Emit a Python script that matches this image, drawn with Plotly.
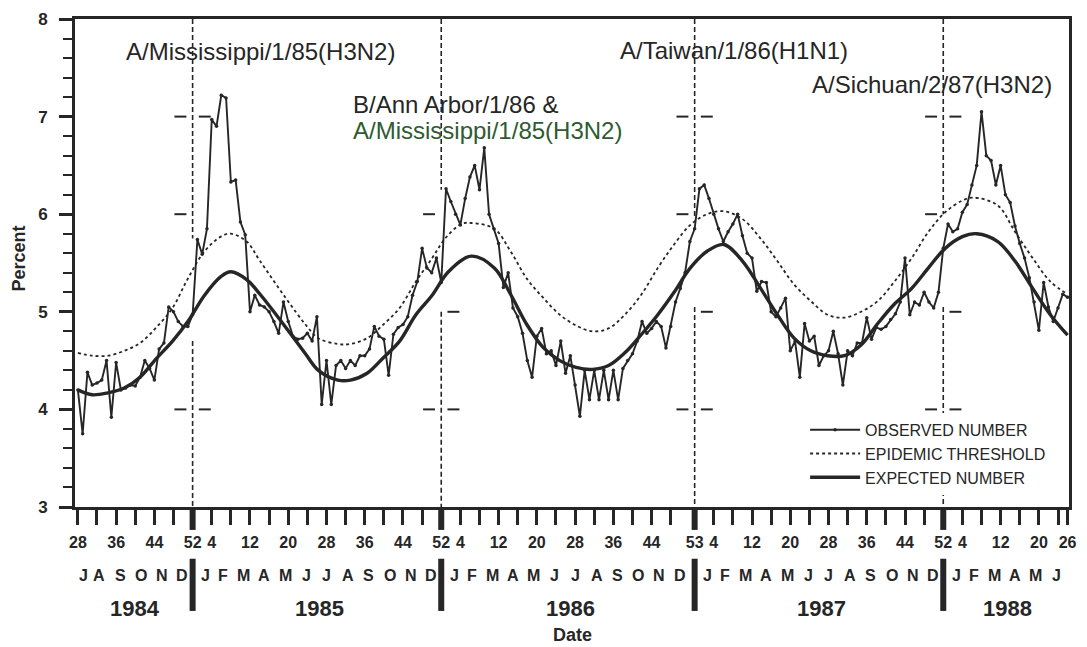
import plotly.graph_objects as go

# ---------------- data ----------------
years = [1984, 1985, 1986, 1987, 1988]
year_first_week = [28, 1, 1, 1, 1]
year_last_week = [52, 52, 53, 52, 26]

tick_weeks = [
    [28, 32, 36, 40, 44, 48, 52],
    [4, 8, 12, 16, 20, 24, 28, 32, 36, 40, 44, 48, 52],
    [4, 8, 12, 16, 20, 24, 28, 32, 36, 40, 44, 48, 53],
    [4, 8, 12, 16, 20, 24, 28, 32, 36, 40, 44, 48, 52],
    [4, 8, 12, 16, 20, 24, 26],
]
label_weeks = [
    [28, 36, 44, 52],
    [4, 12, 20, 28, 36, 44, 52],
    [4, 12, 20, 28, 36, 44, 53],
    [4, 12, 20, 28, 36, 44, 52],
    [4, 12, 20, 26],
]
month_letters = [
    list("JASOND"),
    list("JFMAMJJASOND"),
    list("JFMAMJJASOND"),
    list("JFMAMJJASOND"),
    list("JFMAMJ"),
]
month_first = [7, 1, 1, 1, 1]
month_start_day = [0, 31, 59, 90, 120, 151, 181, 212, 243, 273, 304, 334, 365]

# weekly observed percent, from week 28 of 1984 to week 26 of 1988
observed = [
    # 1984 wk 28-52
    4.2, 3.75, 4.38, 4.25, 4.27, 4.3, 4.5, 3.92, 4.48, 4.2, 4.22, 4.25, 4.24,
    4.33, 4.5, 4.42, 4.3, 4.62, 4.68, 5.05, 5.0, 4.9, 4.85, 4.85, 4.97,
    # 1985 wk 1-52
    5.74, 5.59, 5.85, 6.97, 6.9, 7.22, 7.19, 6.33, 6.35, 5.92, 5.79, 5.0, 5.17,
    5.07, 5.05, 5.0, 4.9, 4.78, 5.1, 4.9, 4.75, 4.72, 4.73, 4.78, 4.7, 4.95,
    4.05, 4.5, 4.05, 4.45, 4.5, 4.42, 4.5, 4.45, 4.55, 4.55, 4.62, 4.85, 4.75,
    4.72, 4.35, 4.77, 4.84, 4.87, 4.95, 5.17, 5.31, 5.65, 5.45, 5.4, 5.55, 5.3,
    # 1986 wk 1-53
    6.26, 6.13, 6.0, 5.89, 6.16, 6.38, 6.5, 6.25, 6.68, 6.0, 5.85, 5.7, 5.25,
    5.4, 5.04, 4.95, 4.78, 4.5, 4.33, 4.75, 4.83, 4.57, 4.6, 4.45, 4.7, 4.37,
    4.55, 4.25, 3.93, 4.4, 4.1, 4.4, 4.1, 4.4, 4.1, 4.4, 4.1, 4.42, 4.5, 4.57,
    4.7, 4.9, 4.78, 4.83, 4.9, 4.85, 4.63, 4.85, 5.1, 5.24, 5.4, 5.72, 5.85,
    # 1987 wk 1-52
    6.26, 6.3, 6.16, 6.0, 5.85, 5.72, 5.82, 5.9, 6.0, 5.78, 5.6, 5.55, 5.21,
    5.31, 5.3, 5.0, 4.95, 5.04, 5.14, 4.6, 4.7, 4.33, 4.88, 4.7, 4.75, 4.45,
    4.55, 4.6, 4.8, 4.57, 4.25, 4.6, 4.55, 4.68, 4.68, 4.94, 4.72, 4.84, 4.82,
    4.85, 4.92, 4.98, 5.1, 5.55, 4.97, 5.1, 5.07, 5.2, 5.1, 5.04, 5.2, 5.65,
    # 1988 wk 1-26
    5.9, 5.82, 5.85, 6.02, 6.1, 6.3, 6.5, 7.05, 6.6, 6.55, 6.3, 6.5, 6.2,
    6.12, 5.88, 5.7, 5.55, 5.35, 5.1, 4.81, 5.3, 5.05, 4.9, 5.04, 5.18, 5.15,
]

# smooth curves read at irregular week positions (week index from wk 28 1984)
expected_week = [0, 3, 6.3, 9.7, 13, 16.4, 19.8, 23, 26.5, 29.9, 32, 35.3, 38.1,
                 43.5, 47.6, 50.3, 54.4, 57, 60.5, 63.9, 67.3, 70.7, 74.1, 77.5,
                 82.3, 87.1, 90.5, 93.9, 97.4, 100.8, 104.2, 107.6, 111, 114.4,
                 117.9, 121.3, 124.7, 128.1, 131.6, 135.1, 139, 142.8, 146.3,
                 149.8, 153.3, 156.8, 160.3, 163.8, 167.3, 170.8, 174.4, 177.9,
                 181.4, 185, 188, 192.4, 196, 199.7, 203.4, 207]
expected_pct = [4.2, 4.15, 4.17, 4.22, 4.33, 4.52, 4.7, 4.9, 5.17, 5.36, 5.41,
                5.33, 5.18, 4.84, 4.57, 4.4, 4.3, 4.3, 4.37, 4.53, 4.7, 4.97,
                5.17, 5.41, 5.57, 5.45, 5.18, 4.87, 4.63, 4.5, 4.43, 4.41, 4.45,
                4.58, 4.77, 4.97, 5.2, 5.45, 5.62, 5.69, 5.52, 5.24, 4.97, 4.73,
                4.6, 4.55, 4.55, 4.66, 4.88, 5.08, 5.24, 5.45, 5.65, 5.77, 5.8,
                5.72, 5.52, 5.24, 4.97, 4.76]

threshold_week = [0, 3, 6.3, 9.7, 13, 16.4, 19.8, 23, 26.5, 29.9, 32, 35.3, 38.1,
                  43.5, 47.6, 50.3, 54.4, 57, 60.5, 63.9, 67.3, 70.7, 74.1, 76.8,
                  80.2, 82.3, 87.1, 90.5, 93.9, 97.4, 100.8, 104.2, 107.6, 111,
                  114.4, 117.9, 121.3, 124.7, 128.1, 131.6, 135.1, 139, 142.8,
                  146.3, 149.8, 153.3, 156.8, 160.3, 163.8, 167.3, 170.8, 174.4,
                  177.9, 181.4, 185, 187.2, 192.4, 196, 199.7, 203.4, 207]
threshold_pct = [4.58, 4.55, 4.55, 4.6, 4.68, 4.84, 5.04, 5.34, 5.62, 5.77, 5.8,
                 5.72, 5.52, 5.14, 4.87, 4.73, 4.67, 4.67, 4.73, 4.87, 5.04, 5.31,
                 5.55, 5.75, 5.9, 5.91, 5.85, 5.62, 5.34, 5.14, 4.97, 4.86, 4.8,
                 4.83, 4.97, 5.18, 5.45, 5.69, 5.89, 6.0, 6.03, 5.95, 5.75, 5.52,
                 5.28, 5.11, 4.97, 4.94, 5.0, 5.11, 5.31, 5.55, 5.82, 6.02, 6.14,
                 6.17, 6.09, 5.82, 5.55, 5.31, 5.18]

strain_labels = [
    "A/Mississippi/1/85(H3N2)",
    "B/Ann Arbor/1/86 &",
    "A/Mississippi/1/85(H3N2)",
    "A/Taiwan/1/86(H1N1)",
    "A/Sichuan/2/87(H3N2)",
]
legend_names = ["OBSERVED NUMBER", "EPIDEMIC THRESHOLD", "EXPECTED NUMBER"]

# ---------------- derived positions ----------------
offsets = []
off = -year_first_week[0]
for i, y in enumerate(years):
    offsets.append(off)
    off += year_last_week[i]

tickvals, ticktext = [], []
for i in range(len(years)):
    for w in tick_weeks[i]:
        tickvals.append(offsets[i] + w)
        ticktext.append(str(w) if w in label_weeks[i] else "")

dividers = [offsets[i] + year_last_week[i] for i in range(len(years) - 1)]

INK = "#262626"
FONT = "Liberation Sans, Arial, Helvetica, sans-serif"

fig = go.Figure()
fig.add_trace(go.Scatter(
    x=threshold_week, y=threshold_pct, mode="lines", name=legend_names[1],
    line=dict(color=INK, width=1.8, dash="dot", shape="spline", smoothing=1.0),
    legendrank=2))
fig.add_trace(go.Scatter(
    x=expected_week, y=expected_pct, mode="lines", name=legend_names[2],
    line=dict(color=INK, width=3.4, shape="spline", smoothing=1.0),
    legendrank=3))
fig.add_trace(go.Scatter(
    x=list(range(len(observed))), y=observed, mode="lines+markers",
    name=legend_names[0], line=dict(color=INK, width=1.9),
    marker=dict(size=3.5, color=INK), legendrank=1))

shapes = []
# year dividers: thick tick bar at axis, bar below labels, dashed guide in plot
gap_top = [5.75, 6.25, 5.95, 6.0]
gap_bottom = [4.7, 5.0, 5.05, 5.05]
marks_left = [[7, 6, 4], [6, 4], [7, 6, 4], [7, 6, 4]]
marks_right = [[7, 4], [5, 4], [7, 5, 4], [7, 5, 4]]
for k, d in enumerate(dividers):
    shapes.append(dict(type="line", xref="x", yref="paper", x0=d, x1=d,
                       y0=0, y1=-0.047, line=dict(color=INK, width=6)))
    shapes.append(dict(type="line", xref="x", yref="paper", x0=d, x1=d,
                       y0=-0.106, y1=-0.213, line=dict(color=INK, width=6)))
    shapes.append(dict(type="line", xref="x", yref="y", x0=d, x1=d,
                       y0=8, y1=gap_top[k],
                       line=dict(color=INK, width=1.6, dash="5px,3px")))
    shapes.append(dict(type="line", xref="x", yref="y", x0=d, x1=d,
                       y0=gap_bottom[k], y1=3,
                       line=dict(color=INK, width=1.6, dash="5px,3px")))
    for lv in marks_left[k]:
        shapes.append(dict(type="line", xref="x", yref="y", x0=d - 3.8,
                           x1=d - 1.3, y0=lv, y1=lv,
                           line=dict(color=INK, width=2)))
    for lv in marks_right[k]:
        shapes.append(dict(type="line", xref="x", yref="y", x0=d + 1.3,
                           x1=d + 3.8, y0=lv, y1=lv,
                           line=dict(color=INK, width=2)))

annotations = []
# month letters and year labels
for i, y in enumerate(years):
    first = year_first_week[i]
    last = year_last_week[i]
    for j, letter in enumerate(month_letters[i]):
        m = month_first[i] - 1 + j
        ws = max(month_start_day[m] / 7.0, first)
        we = min(month_start_day[m + 1] / 7.0, last)
        annotations.append(dict(
            x=offsets[i] + (ws + we) / 2.0, y=-0.140, xref="x", yref="paper",
            text=letter, showarrow=False, xanchor="center", yanchor="middle",
            font=dict(family=FONT, size=16, color=INK, weight="bold")))
    annotations.append(dict(
        x=offsets[i] + (first + last) / 2.0, y=-0.209, xref="x", yref="paper",
        text=str(y), showarrow=False, xanchor="center", yanchor="middle",
        font=dict(family=FONT, size=22, color=INK, weight="bold")))

annotations.append(dict(x=0.5, y=-0.262, xref="paper", yref="paper",
                        text="Date", showarrow=False, xanchor="center",
                        yanchor="middle",
                        font=dict(family=FONT, size=18, color=INK, weight="bold")))
annotations.append(dict(x=-0.056, y=0.51, xref="paper", yref="paper",
                        text="Percent", showarrow=False, textangle=-90,
                        xanchor="center", yanchor="middle",
                        font=dict(family=FONT, size=18, color=INK, weight="bold")))

strain_pos = [(0.049, 0.933), (0.278, 0.825), (0.278, 0.772),
              (0.546, 0.935), (0.7395, 0.866)]
strain_col = [INK, INK, "#2f5a32", INK, INK]
for (px, py), txt, col in zip(strain_pos, strain_labels, strain_col):
    annotations.append(dict(x=px, y=py, xref="paper", yref="paper", text=txt,
                            showarrow=False, xanchor="left", yanchor="middle",
                            font=dict(family=FONT, size=24, color=col)))

fig.update_layout(
    width=1087, height=647,
    margin=dict(l=75, r=10, t=15, b=140),
    paper_bgcolor="white", plot_bgcolor="white",
    shapes=shapes, annotations=annotations,
    showlegend=True,
    legend=dict(x=0.7345, y=0.193, xanchor="left", yanchor="top",
                bgcolor="white", tracegroupgap=0, itemwidth=50,
                font=dict(family=FONT, size=16, color=INK)),
    xaxis=dict(range=[-0.6, 207.3], tickmode="array", tickvals=tickvals,
               ticktext=ticktext, ticks="outside", ticklen=15, tickwidth=3,
               tickcolor=INK, showline=True, linewidth=3, linecolor=INK,
               mirror=True, showgrid=False, zeroline=False,
               ticklabelstandoff=4,
               tickfont=dict(family=FONT, size=16, color=INK, weight="bold")),
    yaxis=dict(range=[3, 8], tickmode="array", tickvals=[3, 4, 5, 6, 7, 8],
               ticks="outside", ticklen=13, tickwidth=3, tickcolor=INK,
               showline=True, linewidth=3, linecolor=INK, mirror=True,
               showgrid=False, zeroline=False, ticklabelstandoff=8,
               minor=dict(dtick=0.2, ticks="outside", ticklen=9, tickwidth=2,
                          tickcolor=INK),
               tickfont=dict(family=FONT, size=17, color=INK, weight="bold")),
)

fig.write_html("out.html",
               config={"displayModeBar": False},
               post_script="document.body.style.margin='0px';"
                           "document.body.style.overflow='hidden';")
